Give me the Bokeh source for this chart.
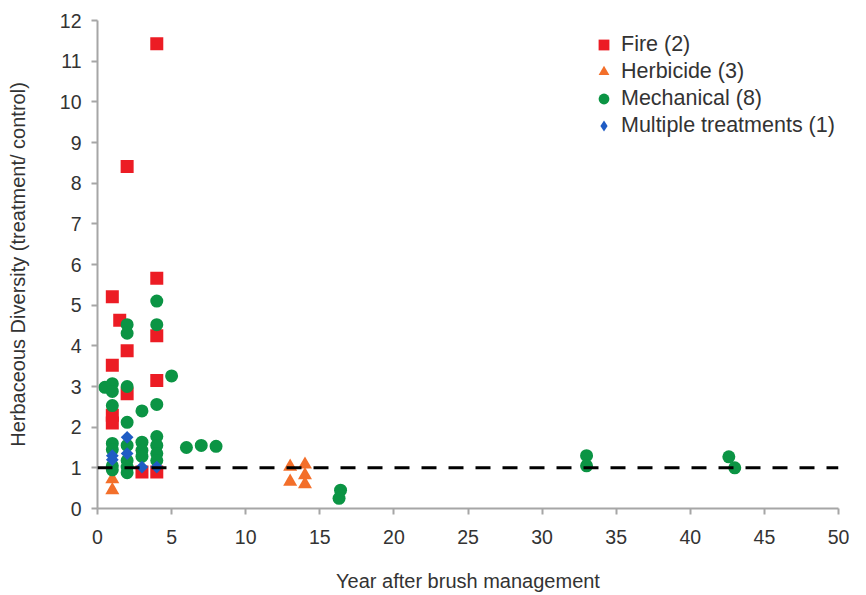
import math
from bokeh.plotting import figure
from bokeh.models import Range1d, FixedTicker, Span, Legend, LegendItem
from bokeh.embed import file_html
from bokeh.resources import INLINE

# ---- data ----
fire_x = [4, 2, 1, 1.5, 4, 2, 4, 1, 4, 2, 1, 1, 3, 4]
fire_y = [11.43, 8.41, 5.21, 4.63, 5.66, 3.88, 4.25, 3.52, 3.15, 2.82, 2.29, 2.1, 0.9, 0.9]

herb_x = [1, 1, 13, 13, 14, 14, 14]
herb_y = [0.72, 0.45, 1.03, 0.66, 1.08, 0.82, 0.6]

mech_x = [0.5, 1, 1, 1, 1, 1, 1, 1,
          2, 2, 2, 2, 2, 2, 2, 2,
          3, 3, 3, 3,
          4, 4, 4, 4, 4, 4, 4,
          5, 6, 7, 8, 16.4, 16.3, 33, 33, 42.6, 43]
mech_y = [2.98, 3.07, 2.88, 2.53, 1.6, 1.45, 1.05, 0.95,
          4.52, 4.31, 3.0, 2.12, 1.55, 1.18, 1.02, 0.88,
          2.4, 1.63, 1.43, 1.28,
          5.1, 4.52, 2.56, 1.77, 1.55, 1.35, 1.18,
          3.26, 1.5, 1.55, 1.53, 0.45, 0.25, 1.3, 1.05, 1.27, 1.0]

multi_x = [1, 1, 2, 2, 3, 4]
multi_y = [1.3, 1.2, 1.75, 1.35, 1.02, 1.02]

x_ticks = [0, 5, 10, 15, 20, 25, 30, 35, 40, 45, 50]
y_ticks = list(range(0, 13))
ref_level = 1

labels = ["Fire (2)", "Herbicide (3)", "Mechanical (8)", "Multiple treatments (1)"]

FONT = "Liberation Sans"
TXT = "#333333"
AX = "#a6a6a6"
C_FIRE = "#ec1c24"
C_HERB = "#f36f2a"
C_MECH = "#0b9444"
C_MULTI = "#1f5cc4"

p = figure(width=858, height=595, output_backend="svg", toolbar_location=None,
           x_range=Range1d(0, 50), y_range=Range1d(0, 12),
           min_border_left=97, min_border_right=20, min_border_top=20, min_border_bottom=87)
p.outline_line_color = None
p.background_fill_color = "white"
p.border_fill_color = "white"
p.xgrid.visible = False
p.ygrid.visible = False

for ax in (p.xaxis[0], p.yaxis[0]):
    ax.axis_line_color = AX
    ax.axis_line_width = 2
    ax.major_tick_line_color = AX
    ax.major_tick_line_width = 2
    ax.major_tick_out = 6
    ax.major_tick_in = 0
    ax.minor_tick_line_color = None
    ax.major_label_text_font = FONT
    ax.major_label_text_font_size = "19.5px"
    ax.major_label_text_color = TXT
    ax.axis_label_text_font = FONT
    ax.axis_label_text_font_size = "20px"
    ax.axis_label_text_font_style = "normal"
    ax.axis_label_text_color = TXT

p.xaxis.ticker = FixedTicker(ticks=x_ticks)
p.yaxis.ticker = FixedTicker(ticks=y_ticks)
p.xaxis.axis_label = "Year after brush management"
p.yaxis.axis_label = "Herbaceous Diversity (treatment/ control)"
p.xaxis.major_label_standoff = 15
p.yaxis.major_label_standoff = 10
p.xaxis.axis_label_standoff = 23
p.yaxis.axis_label_standoff = 28

p.add_layout(Span(location=ref_level, dimension="width", line_color="black",
                  line_width=3, line_dash="15 12"))

r_fire = p.scatter(fire_x, fire_y, marker="square", size=13, fill_color=C_FIRE, line_color=None)
r_herb = p.scatter(herb_x, herb_y, marker="triangle", size=14, fill_color=C_HERB, line_color=None)
r_mech = p.scatter(mech_x, mech_y, marker="circle", size=13, fill_color=C_MECH, line_color=None)
r_multi = p.scatter(multi_x, multi_y, marker="square", angle=math.pi / 4, size=9,
                    fill_color=C_MULTI, line_color=None)
# legend-only renderer (one undefined point, never drawn) so that the legend shows a diamond
nan = float("nan")
r_multi_leg = p.scatter(x=[nan], y=[nan], marker="diamond", size=13, fill_color=C_MULTI, line_color=None)

legend = Legend(items=[LegendItem(label=labels[0], renderers=[r_fire]),
                       LegendItem(label=labels[1], renderers=[r_herb]),
                       LegendItem(label=labels[2], renderers=[r_mech]),
                       LegendItem(label=labels[3], renderers=[r_multi_leg])],
                location=(493, 369), padding=0, spacing=0, margin=0,
                glyph_width=27, glyph_height=27, label_height=27, label_standoff=4,
                label_text_font=FONT, label_text_font_size="21.5px", label_text_color=TXT,
                border_line_color=None, background_fill_alpha=0)
p.add_layout(legend)

open("out.html", "w").write(file_html(p, INLINE))
